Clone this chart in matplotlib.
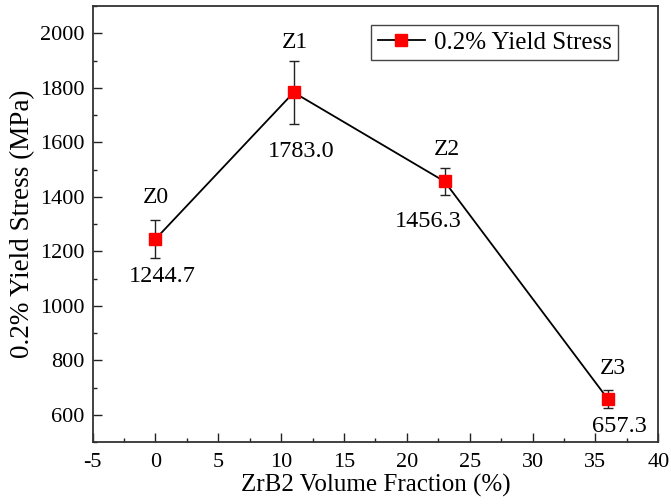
import matplotlib
matplotlib.use("Agg")
import matplotlib.pyplot as plt
from matplotlib.ticker import MultipleLocator

x_vals = [0, 11, 23, 36]
y_vals = [1244.7, 1783.0, 1456.3, 657.3]
y_err = [70, 115, 48, 33]
names = ["Z0", "Z1", "Z2", "Z3"]
value_labels = ["1244.7", "1783.0", "1456.3", "657.3"]

# label offsets in pixels (dx, dy) relative to marker
name_offsets = [(0, 42), (1, 50), (2, 32), (5, 31)]
value_offsets = [(7, -37), (7, -59), (-16, -40), (11, -27)]

plt.rcParams['font.family'] = ['Liberation Serif', 'DejaVu Serif']
plt.rcParams['axes.unicode_minus'] = False

fig = plt.figure(figsize=(6.71, 5.04), dpi=100)
ax = fig.add_axes([0.138, 0.123, 0.843, 0.865])

ax.errorbar(x_vals, y_vals, yerr=y_err, fmt='none', ecolor='#222222', elinewidth=1.0,
            capsize=3.5, capthick=1.0, zorder=2)
ax.plot(x_vals, y_vals, color='black', lw=1.3, marker='s', markersize=9,
        markerfacecolor='#ff0000', markeredgecolor='#ff0000',
        label='0.2% Yield Stress', zorder=3)

for xv, yv, n, v, no, vo in zip(x_vals, y_vals, names, value_labels, name_offsets, value_offsets):
    ax.annotate(n, (xv, yv), xytext=no, textcoords='offset pixels',
                ha='center', va='center', fontsize=17)
    ax.annotate(v, (xv, yv), xytext=vo, textcoords='offset pixels',
                ha='center', va='center', fontsize=17.5)

ax.set_xlim(-5, 40)
ax.set_ylim(500, 2100)
ax.xaxis.set_major_locator(MultipleLocator(5))
ax.xaxis.set_minor_locator(MultipleLocator(2.5))
ax.set_yticks([600, 800, 1000, 1200, 1400, 1600, 1800, 2000])
ax.yaxis.set_minor_locator(MultipleLocator(100))
ax.tick_params(which='both', direction='in', top=False, right=False, labelsize=16, width=1.0,
               color='#222222')
ax.tick_params(which='major', length=6.5)
ax.tick_params(which='minor', length=3)
ax.tick_params(axis='x', which='major', pad=8)
ax.tick_params(axis='y', which='major', pad=6)
for s in ax.spines.values():
    s.set_linewidth(1.3)
    s.set_color('#333333')

ax.set_xlabel('ZrB2 Volume Fraction (%)', fontsize=18, labelpad=1)
ax.set_ylabel('0.2% Yield Stress (MPa)', fontsize=19.5, labelpad=3)

leg = ax.legend(loc='upper right', bbox_to_anchor=(618 / 671, 1 - 25 / 504),
                bbox_transform=fig.transFigure, borderaxespad=0,
                fontsize=18, frameon=True, fancybox=False, edgecolor='#444444',
                handlelength=1.9, borderpad=0.25, handletextpad=0.35, framealpha=1)
leg.get_frame().set_linewidth(1.0)

fig.savefig('out.png', dpi=100)
